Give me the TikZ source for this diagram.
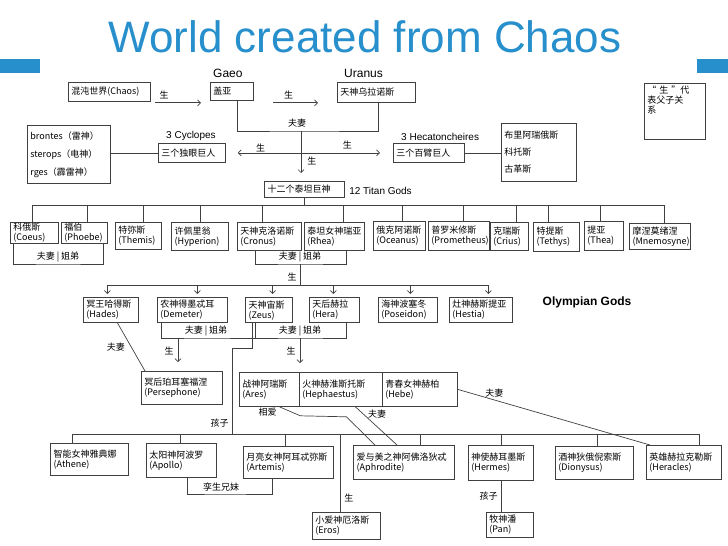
\documentclass[tikz,border=0pt]{standalone}
\usepackage{fontspec}
\setmainfont{Liberation Sans}
\newfontfamily\cjk{Noto Sans CJK SC}
\usetikzlibrary{arrows.meta}
\definecolor{titleblue}{RGB}{38,143,204}
\tikzset{
    >={Straight Barb[length=3pt,width=6pt]},
    link/.style={draw=black!75, line width=0.7pt},
    godbox/.style={draw=black!75, font=\cjk\fontsize{9}{10}\selectfont, align=left,
        inner xsep=3pt, inner ysep=1pt, anchor=north west},
    cnlbl/.style={font=\cjk\fontsize{9}{10}\selectfont, inner sep=1pt},
    enlbl/.style={font=\fontsize{10}{12}\selectfont, inner sep=1pt, anchor=south west},
    namelbl/.style={font=\fontsize{12}{14}\selectfont, inner sep=1pt, anchor=south west},
    headline/.style={font=\fontsize{44}{50}\selectfont, text=titleblue, anchor=base, inner sep=0pt},
}
\begin{document}
\begin{tikzpicture}[x=1pt, y=-1pt]
    \useasboundingbox (0,0) rectangle (728,546);
    \node[headline] (title) at (365,52) {World created from Chaos};
    \fill[titleblue] (0,59) rectangle (40,73);
    \fill[titleblue] (697,59) rectangle (728,73);
    % all the boxes, by corners
    \foreach \nm/\xa/\ya/\xb/\yb/\lw/\txt [evaluate=\xb as \w using \xb-\xa, evaluate=\xb as \tw using \xb-\xa-6, evaluate=\yb as \h using \yb-\ya] in {
        chaos/68/82/150/101/0.8pt/{混沌世界(Chaos)},
        gaea/210/82/253/100/0.8pt/{盖亚},
        uranus/337/82/415/102/0.8pt/{天神乌拉诺斯},
        brontes/27/125/110/183/0.8pt/{brontes（雷神）\\[8pt]sterops（电神）\\[8pt]rges（霹雷神）},
        cyclopes/158/143/225/162/0.8pt/{三个独眼巨人},
        hecaton/393/143/464/162/0.8pt/{三个百臂巨人},
        hundred/501/123/576/181/0.8pt/{布里阿瑞俄斯\\[7pt]科托斯\\[7pt]古革斯},
        titans/264/181/344/197/1.1pt/{十二个泰坦巨神},
        coeus/10/222/58/242/0.8pt/{科俄斯\\(Coeus)},
        phoebe/61/222/107/243/0.8pt/{福伯\\(Phoebe)},
        themis/115/222/161/249/0.8pt/{特弥斯\\(Themis)},
        hyperion/171/222/228/250/1.4pt/{许佩里翁\\(Hyperion)},
        cronus/237/222/301/250/0.8pt/{天神克洛诺斯\\(Cronus)},
        rhea/304/222/364/250/0.8pt/{泰坦女神瑞亚\\(Rhea)},
        oceanus/373/221/425/250/0.8pt/{俄克阿诺斯\\(Oceanus)},
        prometheus/428/221/489/250/0.8pt/{普罗米修斯\\(Prometheus)},
        crius/490/222/528/250/0.8pt/{克瑞斯\\(Crius)},
        tethys/533/222/579/251/1.4pt/{特提斯\\(Tethys)},
        thea/584/221/623/250/0.8pt/{提亚\\(Thea)},
        mnemosyne/629/223/690/249/1.2pt/{摩涅莫绪涅\\(Mnemosyne)},
        hades/83/297/138/322/0.8pt/{冥王哈得斯\\(Hades)},
        demeter/157/297/227/322/0.8pt/{农神得墨忒耳\\(Demeter)},
        zeus/245/297/292/322/1.4pt/{天神宙斯\\(Zeus)},
        hera/309/297/359/322/0.8pt/{天后赫拉\\(Hera)},
        poseidon/378/297/437/322/0.8pt/{海神波塞冬\\(Poseidon)},
        hestia/449/297/512/322/0.8pt/{灶神赫斯提亚\\(Hestia)},
        persephone/141/371/222/404/0.8pt/{冥后珀耳塞福涅\\(Persephone)},
        ares/239/372/299/406/0.8pt/{战神阿瑞斯\\(Ares)},
        hephaestus/299/372/382/406/0.8pt/{火神赫淮斯托斯\\(Hephaestus)},
        hebe/382/372/457/406/0.8pt/{青春女神赫柏\\(Hebe)},
        athene/50/443/128/475/1.4pt/{智能女神雅典娜\\(Athene)},
        apollo/146/443/216/477/0.8pt/{太阳神阿波罗\\(Apollo)},
        artemis/243/446/333/478/0.8pt/{月亮女神阿耳忒弥斯\\(Artemis)},
        aphrodite/353/445/454/479/1.4pt/{爱与美之神阿佛洛狄忒\\(Aphrodite)},
        hermes/468/445/533/480/0.8pt/{神使赫耳墨斯\\(Hermes)},
        dionysus/555/446/633/479/0.8pt/{酒神狄俄倪索斯\\(Dionysus)},
        heracles/646/445/721/479/0.8pt/{英雄赫拉克勒斯\\(Heracles)},
        eros/312/512/380/539/0.8pt/{小爱神厄洛斯\\(Eros)},
        pan/486/512/533/537/0.8pt/{牧神潘\\(Pan)}}
        \node[godbox, line width=\lw, minimum width=\w pt, minimum height=\h pt, text width=\tw pt] (\nm) at (\xa,\ya) {\txt};
    \node[godbox, line width=0.8pt, text width=55pt, text height=8pt, text depth=44pt, inner ysep=2pt] (legend) at (644,83) {“ 生 ”代\\表父子关\\系};
    % english names
    \node[namelbl] (gaeolbl) at ([xshift=2pt,yshift=3pt]gaea.north west) {Gaeo};
    \node[namelbl] (uranuslbl) at ([xshift=6pt,yshift=3pt]uranus.north west) {Uranus};
    \node[enlbl] (cyclopeslbl) at ([xshift=7pt,yshift=1pt]cyclopes.north west) {3 Cyclopes};
    \node[enlbl] (hecatonlbl) at ([xshift=7pt,yshift=1pt]hecaton.north west) {3 Hecatoncheires};
    \node[enlbl, anchor=west] (titanlbl) at ([xshift=3pt,yshift=-1pt]titans.east) {12 Titan Gods};
    \node[namelbl, font=\fontsize{12}{14}\selectfont\bfseries, anchor=center] (olympian) at (587,302) {Olympian Gods};
    % joints
    \coordinate (gubar) at (301,131);
    \coordinate (titanbus) at (302,205);
    \coordinate (cpbar) at (58,264);
    \coordinate (crbar) at (300,264);
    \coordinate (olybus) at (300,285);
    \coordinate (dzbar) at (206,338);
    \coordinate (dzkid) at (178,338);
    \coordinate (zhbar) at (300,338);
    \coordinate (zkid) at (232,348);
    \coordinate (kidbus) at (400,434);
    \coordinate (twinbar) at (221,494);
    \coordinate (erosjoin) at (340,434);
    % chaos, gaea, uranus
    \draw[link,->] ([xshift=4pt,yshift=-1pt]chaos.south east) -- node[cnlbl,above=3pt,pos=.2]{生} ([xshift=-9pt,yshift=-2pt]gaea.south west);
    \draw[link,->] ([xshift=19pt,yshift=-2pt]gaea.south east) -- node[cnlbl,above=3pt,pos=.35]{生} ([xshift=-19pt]uranus.south west);
    \draw[link] ([xshift=-16pt]gaea.south east) |- (gubar) node[cnlbl,above=2pt,xshift=-4pt]{夫妻} -| ([xshift=2pt]uranus.south);
    \draw[link,->,shorten >=8pt] (gubar) -- node[cnlbl,right=5pt,pos=.6]{生} (gubar |- titans.north);
    \draw[link,<->] ([xshift=12pt]cyclopes.east) -- node[cnlbl,above,pos=.16]{生} node[cnlbl,above=3pt,pos=.77]{生} ([xshift=-13pt]hecaton.west);
    \draw[link] (cyclopes.west) -- (cyclopes.west -| brontes.east);
    \draw[link] (hecaton.east) -- (hecaton.east -| hundred.west);
    % titans
    \draw[link] (titans.south) -- (titans.south |- titanbus);
    \draw[link] ([xshift=-2pt]coeus.north |- titanbus) -- ([xshift=4.5pt]mnemosyne.north |- titanbus);
    \foreach \nm/\dx in {coeus/-2pt, phoebe/3pt, themis/5pt, hyperion/0pt, cronus/-7pt, rhea/9pt, oceanus/3pt, prometheus/4.5pt, crius/7pt, tethys/-8pt, thea/-4pt, mnemosyne/4.5pt}
        \draw[link] ([xshift=\dx]\nm.north |- titanbus) -- ([xshift=\dx]\nm.north);
    \draw[link] ([xshift=3pt]coeus.south west) |- (cpbar) node[cnlbl,above=1pt]{夫妻 | 姐弟} -| ([xshift=-4pt]phoebe.south east);
    \draw[link] ([xshift=18pt]cronus.south west) |- (crbar) node[cnlbl,above=1pt]{夫妻 | 姐弟} -| ([xshift=-18pt]rhea.south east);
    \draw[link] (crbar) -- node[cnlbl,left=2pt,pos=.6]{生} (olybus);
    % olympians
    \draw[link] ([xshift=-3.5pt]hades.north |- olybus) -- ([xshift=7.5pt]hestia.north |- olybus);
    \foreach \nm/\dx in {hades/-3.5pt, demeter/5pt, zeus/3.5pt, hera/-1pt, poseidon/2.5pt, hestia/7.5pt}
        \draw[link,->,shorten >=3pt] ([xshift=\dx]\nm.north |- olybus) -- ([xshift=\dx]\nm.north);
    \draw[link] ([xshift=4pt]demeter.south west) |- (dzbar) node[cnlbl,above=1pt]{夫妻 | 姐弟} -| ([xshift=10pt]zeus.south west);
    \draw[link] ([xshift=10pt]zeus.south west) |- (zhbar) node[cnlbl,above=1pt]{夫妻 | 姐弟} -| ([xshift=-13pt]hera.south east);
    \draw[link,->,shorten >=9pt] (dzkid) -- node[cnlbl,left=3pt,pos=.38]{生} (dzkid |- persephone.north);
    \draw[link,->,shorten >=9pt] (zhbar) -- node[cnlbl,left=3pt,pos=.37]{生} (zhbar |- hephaestus.north);
    \draw[link] ([xshift=6.5pt]hades.south) -- node[cnlbl,left=5pt]{夫妻} ([xshift=4pt]persephone.north west);
    \draw[link] ([xshift=7pt]zeus.south west) |- (zkid) -- node[cnlbl,left=2pt,pos=.87]{孩子} (zkid |- kidbus);
    % love and marriage
    \draw[link] ([xshift=10pt]ares.south) -- node[cnlbl,left=14pt,pos=.6]{相爱} ++(21,9) -- ++(46,1) -- ([xshift=22pt]aphrodite.north west);
    \draw[link] ([xshift=14.5pt]hephaestus.south) -- node[cnlbl,right=3pt,pos=.2]{夫妻} ([xshift=44pt]aphrodite.north west);
    \draw[link] (hebe.east) -- node[cnlbl,above=1pt,pos=.19]{夫妻} ([xshift=4pt]heracles.north west);
    % children of zeus
    \draw[link] ([xshift=-17pt]athene.north |- kidbus) -- ([xshift=15.5pt]heracles.north |- kidbus);
    \foreach \nm/\dx in {athene/-17pt, apollo/-1pt, artemis/-3pt, aphrodite/16.5pt, hermes/0pt, dionysus/3pt, heracles/15.5pt}
        \draw[link] ([xshift=\dx]\nm.north |- kidbus) -- ([xshift=\dx]\nm.north);
    \draw[link] ([xshift=-29pt]apollo.south east) |- (twinbar) node[cnlbl,above=1pt]{孪生兄妹} -| ([xshift=29pt]artemis.south west);
    \draw[link] (erosjoin) -- node[cnlbl,right=3pt,pos=.82]{生} (erosjoin |- eros.north);
    \draw[link] (hermes.south) -- node[cnlbl,left=2pt]{孩子} (hermes.south |- pan.north);
\end{tikzpicture}
\end{document}
